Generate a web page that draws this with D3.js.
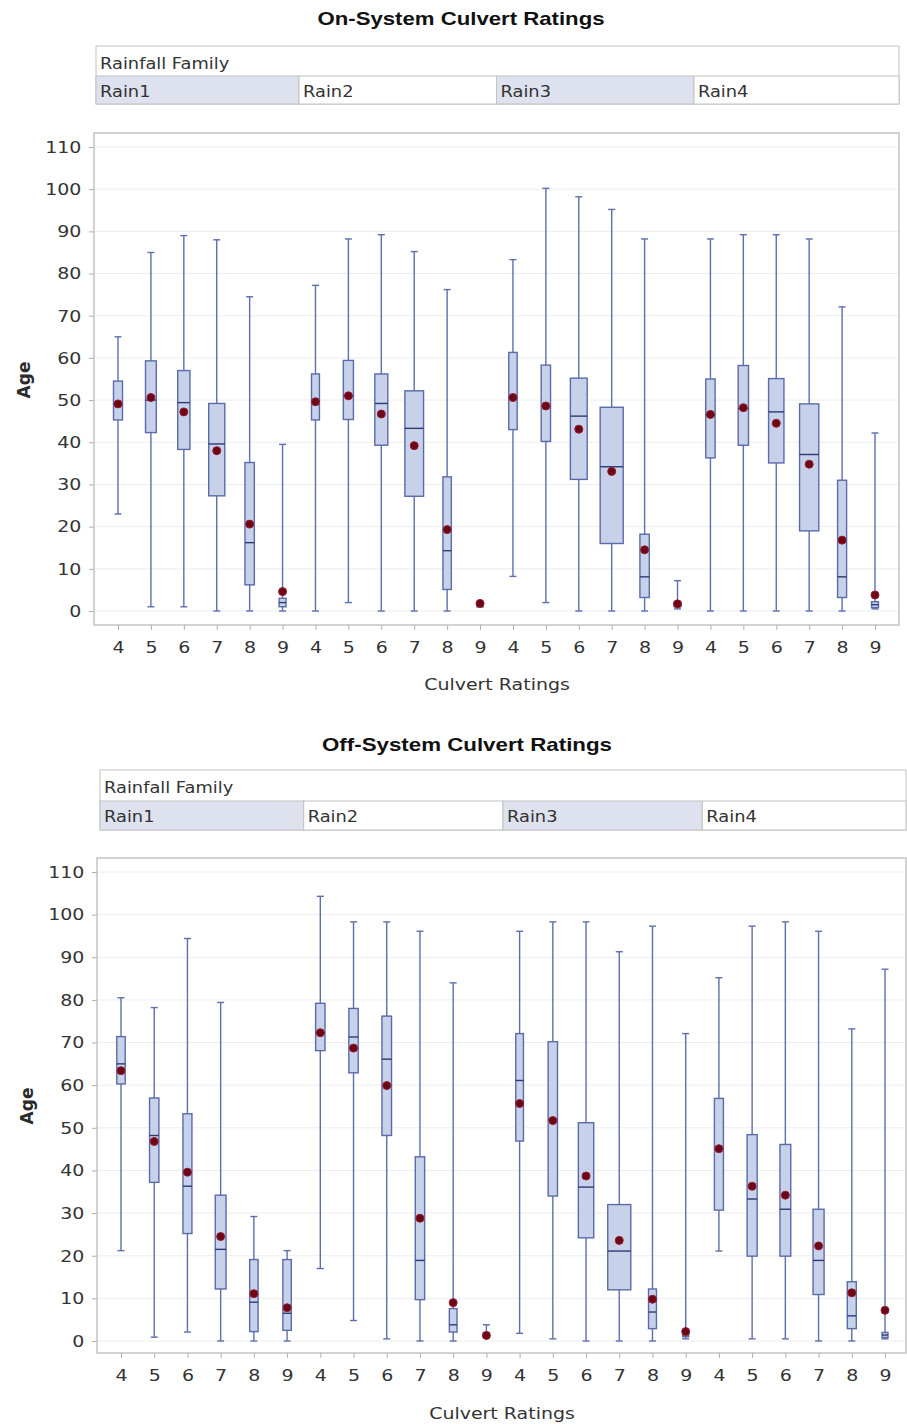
<!DOCTYPE html>
<html>
<head>
<meta charset="utf-8">
<script src="https://cdn.jsdelivr.net/npm/d3@7/dist/d3.min.js"></script>
<style>
  body { margin: 0; background: #fff; }
  svg { display: block; }
</style>
</head>
<body>
<svg id="chart" width="907" height="1424"></svg>
<script>
// ---- categories ----
const families = ["Rain1", "Rain2", "Rain3", "Rain4"];
const ratings = ["4", "5", "6", "7", "8", "9"];
const yTickValues = [0, 10, 20, 30, 40, 50, 60, 70, 80, 90, 100, 110];

// ---- On-System: Age by rating, grouped Rain1..Rain4 (6 ratings each) ----
const onMin  = [23, 1, 1, 0, 0, 0,        0, 2, 0, 0, 0, 1,          8.2, 2, 0, 0, 0, 0.5,        0, 0, 0, 0, 0, 0.5];
const onQ1   = [45.3, 42.3, 38.3, 27.3, 6.2, 1,   45.3, 45.4, 39.3, 27.2, 5.1, 1,   43, 40.2, 31.2, 16, 3.2, 1,   36.3, 39.3, 35.1, 19, 3.2, 0.8];
const onMed  = [49, 50, 49.4, 39.6, 16.2, 2,      49.8, 51, 49.2, 43.3, 14.3, 1.6,  50.5, 48.5, 46.2, 34.2, 8.1, 1.5,  46.5, 48, 47.2, 37.1, 8.1, 1.5];
const onQ3   = [54.5, 59.3, 57, 49.2, 35.2, 3,    56.2, 59.4, 56.2, 52.2, 31.8, 2.2, 61.3, 58.3, 55.2, 48.3, 18.2, 2,  55, 58.2, 55.1, 49.1, 31, 2.2];
const onMax  = [65, 85, 89, 88, 74.5, 39.5,       77.2, 88.2, 89.2, 85.2, 76.2, 2.2, 83.3, 100.2, 98.2, 95.2, 88.2, 7.2, 88.2, 89.2, 89.2, 88.2, 72.1, 42.2];
const onMean = [49.1, 50.6, 47.2, 38, 20.6, 4.6,  49.6, 51, 46.7, 39.2, 19.3, 1.8,  50.6, 48.6, 43.1, 33.1, 14.5, 1.7, 46.6, 48.2, 44.5, 34.8, 16.8, 3.8];
// relative group size (drives box width)
const onRelN = [0.375, 0.45, 0.51, 0.67, 0.39, 0.29,  0.33, 0.42, 0.54, 0.78, 0.35, 0.25,  0.35, 0.39, 0.70, 0.96, 0.39, 0.29,  0.39, 0.43, 0.64, 0.80, 0.375, 0.29];

// ---- Off-System ----
const offMin  = [21.2, 0.9, 2.1, 0, 0, 0,         17, 4.8, 0.5, 0, 0, 1,         1.8, 0.5, 0, 0, 0, 0.5,       21.1, 0.5, 0.5, 0, 0, 0.5];
const offQ1   = [60.3, 37.2, 25.2, 12.2, 2.2, 2.5, 68.1, 62.9, 48.2, 9.7, 2.1, 1, 46.9, 34, 24.2, 12, 2.9, 1,  30.7, 19.9, 19.9, 10.9, 2.9, 0.8];
const offMed  = [65, 48.2, 36.3, 21.5, 9.1, 6.5,  72.3, 71.3, 66.1, 18.9, 3.8, 1.5, 61.1, 52, 36.1, 21.1, 6.8, 1.5, 45, 33.3, 30.9, 18.9, 5.9, 1.4];
const offQ3   = [71.4, 57, 53.3, 34.2, 19.1, 19.1, 79.2, 78, 76.2, 43.2, 7.6, 2, 72.1, 70.2, 51.2, 32, 12.2, 2,  56.9, 48.4, 46.1, 30.9, 13.9, 2];
const offMax  = [80.5, 78.2, 94.4, 79.4, 29.2, 21.2, 104.3, 98.3, 98.3, 96.1, 84, 3.8, 96.1, 98.3, 98.3, 91.3, 97.3, 72.1, 85.2, 97.3, 98.3, 96.1, 73.2, 87.2];
const offMean = [63.4, 46.8, 39.6, 24.5, 11.1, 7.8, 72.3, 68.7, 59.9, 28.8, 9, 1.3, 55.7, 51.7, 38.7, 23.6, 9.8, 2.2, 45.1, 36.3, 34.2, 22.3, 11.3, 7.2];
const offRelN = [0.35, 0.39, 0.375, 0.45, 0.35, 0.35,  0.39, 0.39, 0.40, 0.39, 0.32, 0.25,  0.32, 0.39, 0.64, 0.96, 0.33, 0.25,  0.375, 0.42, 0.45, 0.46, 0.375, 0.25];

const panels = [
  {
    title: "On-System Culvert Ratings",
    stats: { min: onMin, q1: onQ1, med: onMed, q3: onQ3, max: onMax, mean: onMean, n: onRelN },
    geo: { titleX: 461, titleY: 25, titleW: 287,
           hdrL: 96, hdrR: 899, hdrT: 46, hdrM: 76, hdrB: 104,
           frL: 94, frR: 899, frT: 133, frB: 625,
           y0: 611, y110: 147, xFirst: 118, xLast: 875,
           xLabelX: 497, xLabelY: 690, ageX: 30, ageY: 380 }
  },
  {
    title: "Off-System Culvert Ratings",
    stats: { min: offMin, q1: offQ1, med: offMed, q3: offQ3, max: offMax, mean: offMean, n: offRelN },
    geo: { titleX: 467, titleY: 751, titleW: 290,
           hdrL: 100, hdrR: 906, hdrT: 770, hdrM: 801, hdrB: 830,
           frL: 97, frR: 906, frT: 858, frB: 1353,
           y0: 1341, y110: 872, xFirst: 121, xLast: 885,
           xLabelX: 502, xLabelY: 1419, ageX: 33, ageY: 1106 }
  }
];

const svg = d3.select("#chart");
svg.append("rect").attr("width", 907).attr("height", 1424).attr("fill", "#fff");

const FONT = "'DejaVu Sans', Verdana, sans-serif";
const SX = 1.15; // horizontal stretch applied to sans text

const C = {
  frame: "#c4c4c4", grid: "#ededed", tick: "#b0b0b0", text: "#333",
  boxFill: "#c7d1ea", boxStroke: "#5a6ba8", whisker: "#5e6fab",
  median: "#2d3b72", mean: "#6a0818", meanEdge: "#9a1a2e",
  hdrBorder: "#c2c2c2", hdrShade: "#dde2ee"
};

const keys = [];
families.forEach(f => ratings.forEach(r => keys.push(f + "|" + r)));

function stretchedText(g, x, y, str, size, anchor, weight) {
  return g.append("text")
    .attr("transform", `translate(${x},${y}) scale(${SX},1)`)
    .attr("text-anchor", anchor || "start")
    .attr("font-family", FONT)
    .attr("font-size", size)
    .attr("font-weight", weight || "normal")
    .attr("fill", C.text)
    .text(str);
}

panels.forEach(p => {
  const G = p.geo, S = p.stats;
  const g = svg.append("g");

  const x = d3.scalePoint().domain(keys).range([G.xFirst, G.xLast]);
  const y = d3.scaleLinear().domain([0, 110]).range([G.y0, G.y110]);
  const w = d3.scaleLinear().domain([0, 1]).range([0, 24]);

  // title
  g.append("text")
    .attr("x", G.titleX).attr("y", G.titleY)
    .attr("text-anchor", "middle")
    .attr("font-family", "'Liberation Sans Narrow', 'Liberation Sans', Arial, sans-serif")
    .attr("font-weight", "bold").attr("font-size", 19)
    .attr("textLength", G.titleW).attr("lengthAdjust", "spacingAndGlyphs")
    .attr("fill", "#111")
    .text(p.title);

  // ---- header: Rainfall Family / Rain1..Rain4 ----
  const bounds = [G.hdrL];
  for (let i = 1; i < families.length; i++) {
    const a = x(families[i - 1] + "|" + ratings[ratings.length - 1]);
    const b = x(families[i] + "|" + ratings[0]);
    bounds.push((a + b) / 2);
  }
  bounds.push(G.hdrR);

  g.append("rect").attr("x", G.hdrL).attr("y", G.hdrT)
    .attr("width", G.hdrR - G.hdrL).attr("height", G.hdrB - G.hdrT)
    .attr("fill", "#fff").attr("stroke", C.hdrBorder);

  families.forEach((f, i) => {
    g.append("rect")
      .attr("x", bounds[i]).attr("y", G.hdrM)
      .attr("width", bounds[i + 1] - bounds[i]).attr("height", G.hdrB - G.hdrM)
      .attr("fill", i % 2 === 0 ? C.hdrShade : "#fff")
      .attr("stroke", C.hdrBorder);
    stretchedText(g, bounds[i] + 4, G.hdrM + 21, f, 15.5);
  });
  stretchedText(g, G.hdrL + 4, G.hdrT + 23, "Rainfall Family", 15.5);

  // ---- plot frame and grid ----
  g.append("g").selectAll("line").data(yTickValues).join("line")
    .attr("x1", G.frL).attr("x2", G.frR)
    .attr("y1", d => y(d)).attr("y2", d => y(d))
    .attr("stroke", C.grid).attr("stroke-width", 1);

  g.append("rect").attr("x", G.frL).attr("y", G.frT)
    .attr("width", G.frR - G.frL).attr("height", G.frB - G.frT)
    .attr("fill", "none").attr("stroke", C.frame).attr("stroke-width", 1.5);

  // y axis
  const ya = g.append("g").attr("transform", `translate(${G.frL},0)`)
    .call(d3.axisLeft(y).tickValues(yTickValues).tickSize(5).tickPadding(6));
  ya.select(".domain").remove();
  ya.selectAll(".tick line").attr("stroke", C.tick);
  ya.selectAll(".tick text")
    .attr("font-family", FONT).attr("font-size", 16.5).attr("fill", C.text)
    .attr("transform", `scale(${SX},1)`);

  // x axis
  const xa = g.append("g").attr("transform", `translate(0,${G.frB})`)
    .call(d3.axisBottom(x).tickSize(5).tickPadding(11).tickFormat(k => k.split("|")[1]));
  xa.select(".domain").remove();
  xa.selectAll(".tick line").attr("stroke", C.tick);
  xa.selectAll(".tick text")
    .attr("font-family", FONT).attr("font-size", 16.5).attr("fill", C.text)
    .attr("transform", `scale(${SX},1)`);

  // axis titles
  stretchedText(g, G.xLabelX, G.xLabelY, "Culvert Ratings", 16.5, "middle");
  g.append("text")
    .attr("transform", `translate(${G.ageX},${G.ageY}) rotate(-90)`)
    .attr("text-anchor", "middle")
    .attr("font-family", FONT).attr("font-size", 17).attr("font-weight", "bold")
    .attr("fill", "#2a2a2a")
    .text("Age");

  // ---- box plots ----
  const rows = keys.map((k, i) => ({
    k, min: S.min[i], q1: S.q1[i], med: S.med[i], q3: S.q3[i], max: S.max[i], mean: S.mean[i], n: S.n[i]
  }));

  const bx = g.append("g").selectAll("g").data(rows).join("g")
    .attr("transform", d => `translate(${x(d.k)},0)`);

  bx.append("line")
    .attr("y1", d => y(d.min)).attr("y2", d => y(d.max))
    .attr("stroke", C.whisker).attr("stroke-width", 1.4);
  bx.append("line").attr("x1", -3.5).attr("x2", 3.5)
    .attr("y1", d => y(d.max)).attr("y2", d => y(d.max))
    .attr("stroke", C.whisker).attr("stroke-width", 1.4);
  bx.append("line").attr("x1", -3.5).attr("x2", 3.5)
    .attr("y1", d => y(d.min)).attr("y2", d => y(d.min))
    .attr("stroke", C.whisker).attr("stroke-width", 1.4);

  bx.append("rect")
    .attr("x", d => -w(d.n) / 2).attr("width", d => w(d.n))
    .attr("y", d => y(d.q3)).attr("height", d => y(d.q1) - y(d.q3))
    .attr("fill", C.boxFill).attr("stroke", C.boxStroke).attr("stroke-width", 1.4);

  bx.append("line")
    .attr("x1", d => -w(d.n) / 2).attr("x2", d => w(d.n) / 2)
    .attr("y1", d => y(d.med)).attr("y2", d => y(d.med))
    .attr("stroke", C.median).attr("stroke-width", 1.4);

  bx.append("circle")
    .attr("cy", d => y(d.mean)).attr("r", 4)
    .attr("fill", C.mean).attr("stroke", C.meanEdge).attr("stroke-width", 1);
});
</script>
</body>
</html>
